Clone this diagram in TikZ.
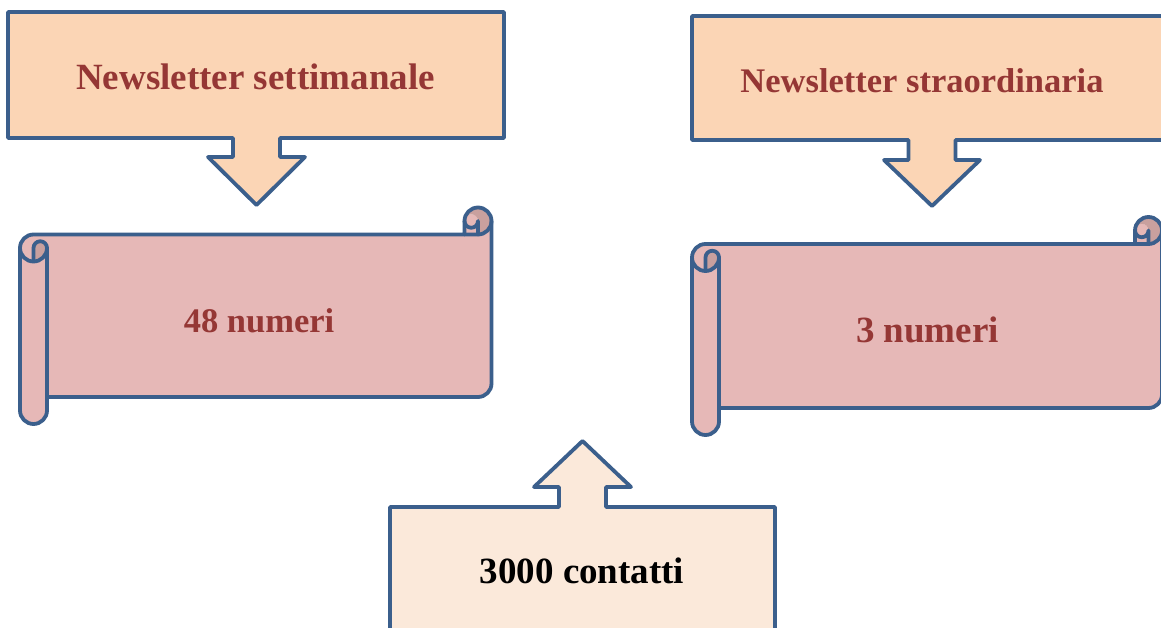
\documentclass[tikz,border=0pt]{standalone}
\usepackage{fontspec}
\setmainfont{Liberation Serif}
\definecolor{edge}{HTML}{3B5F8C}
\definecolor{peach}{HTML}{FBD5B5}
\definecolor{cream}{HTML}{FBE9DA}
\definecolor{rosefill}{HTML}{E6B8B7}
\definecolor{rosedark}{HTML}{C9A09E}
\definecolor{txtred}{HTML}{953735}
\tikzset{
  outl/.style={draw=edge, line width=3.8pt, line join=round, line cap=round},
  lbl/.style={anchor=base, inner sep=0pt, text=txtred},
  big/.style={font=\fontsize{37}{40}\selectfont\bfseries},
  mid/.style={font=\fontsize{34.5}{38}\selectfont\bfseries},
}
% horizontal scroll: l t r b ch
\newcommand\myscroll[5]{%
  \pgfmathsetmacro\cA{#5/2}\pgfmathsetmacro\cB{#5/4}%
  \pgfmathsetmacro\yC{#2+#5+\cA}\pgfmathsetmacro\yD{#2+2*#5}%
  \pgfmathsetmacro\yF{#4-#5}\pgfmathsetmacro\yG{#4-\cA}\pgfmathsetmacro\yE{\yF-\cA}%
  \pgfmathsetmacro\xC{#3-#5}\pgfmathsetmacro\xD{#3-\cA}%
  \pgfmathsetmacro\tA{#2+\cA}\pgfmathsetmacro\tB{#2+#5}%
  \pgfmathsetmacro\lA{#1+\cA}\pgfmathsetmacro\lB{#1+#5}%
  \pgfmathsetmacro\xE{\xD-\cB}%
  \fill[rosefill] (#3,\tA) arc[start angle=0,end angle=90,radius=\cA] -- (\xD,\tA)
     arc[start angle=0,end angle=180,radius=\cB] -- (\xC,\tB) -- (\lA,\tB)
     arc[start angle=270,end angle=180,radius=\cA] -- (#1,\yG)
     arc[start angle=180,end angle=0,radius=\cA] -- (\lB,\yF) -- (\xD,\yF)
     arc[start angle=90,end angle=0,radius=\cA] -- cycle;
  \fill[rosefill] (\xE,\tA) circle[radius=\cB];
  \fill[rosedark] (\lA,\yD) arc[start angle=90,end angle=0,radius=\cA]
     arc[start angle=0,end angle=-180,radius=\cB] -- cycle;
  \fill[rosedark] (\xD,\tB) arc[start angle=90,end angle=-180,radius=\cA]
     arc[start angle=180,end angle=360,radius=\cB] -- cycle;
  \draw[outl] (#1,\yC) arc[start angle=180,end angle=270,radius=\cA] -- (\xC,\tB) -- (\xC,\tA)
     arc[start angle=180,end angle=360,radius=\cA] -- (#3,\yE)
     arc[start angle=0,end angle=90,radius=\cA] -- (\lB,\yF) -- (\lB,\yG)
     arc[start angle=0,end angle=180,radius=\cA] -- cycle;
  \draw[outl] (\xC,\tB) -- (\xD,\tB) arc[start angle=90,end angle=0,radius=\cA];
  \draw[outl] (\xD,\tB) -- (\xD,\tA) arc[start angle=0,end angle=180,radius=\cB];
  \draw[outl] (\lA,\yD) -- (\lA,\yC) arc[start angle=180,end angle=360,radius=\cB]
     arc[start angle=0,end angle=180,radius=\cA];
  \draw[outl] (\lB,\yC) -- (\lB,\yF);
}
\begin{document}
\begin{tikzpicture}[x=1pt,y=-1pt]
\useasboundingbox (0,0) rectangle (1161,628);
\clip (0,0) rectangle (1161,628);
\fill[white] (0,0) rectangle (1161,628);

% callout top-left
\draw[outl, fill=peach] (8,12) -- (504,12) -- (504,138) -- (280,138) -- (280,157) -- (305,157)
  -- (256.5,205) -- (208,157) -- (233,157) -- (233,138) -- (8,138) -- cycle;
% callout top-right
\draw[outl, fill=peach] (692,16) -- (1175,16) -- (1175,140) -- (955.5,140) -- (955.5,160) -- (980,160)
  -- (932,206) -- (884,160) -- (908.5,160) -- (908.5,140) -- (692,140) -- cycle;
% callout bottom
\draw[outl, fill=cream] (390,645) -- (390,507) -- (559,507) -- (559,487) -- (534,487)
  -- (582.5,441) -- (631,487) -- (606,487) -- (606,507) -- (775,507) -- (775,645) -- cycle;

% scrolls
\myscroll{20}{207.5}{491.5}{424}{27}
\myscroll{692}{217}{1162}{435}{27}

% texts
\node[lbl, big] (t1) at (255.5,90) {Newsletter settimanale};
\node[lbl, mid] (t2) at (922,93) {Newsletter straordinaria};
\node[lbl, mid] (s1) at (259,332) {48 numeri};
\node[lbl, big] (s2) at (927.5,342) {3 numeri};
\node[lbl, big, text=black] (b1) at (582,583) {3000 contatti};
\end{tikzpicture}
\end{document}
